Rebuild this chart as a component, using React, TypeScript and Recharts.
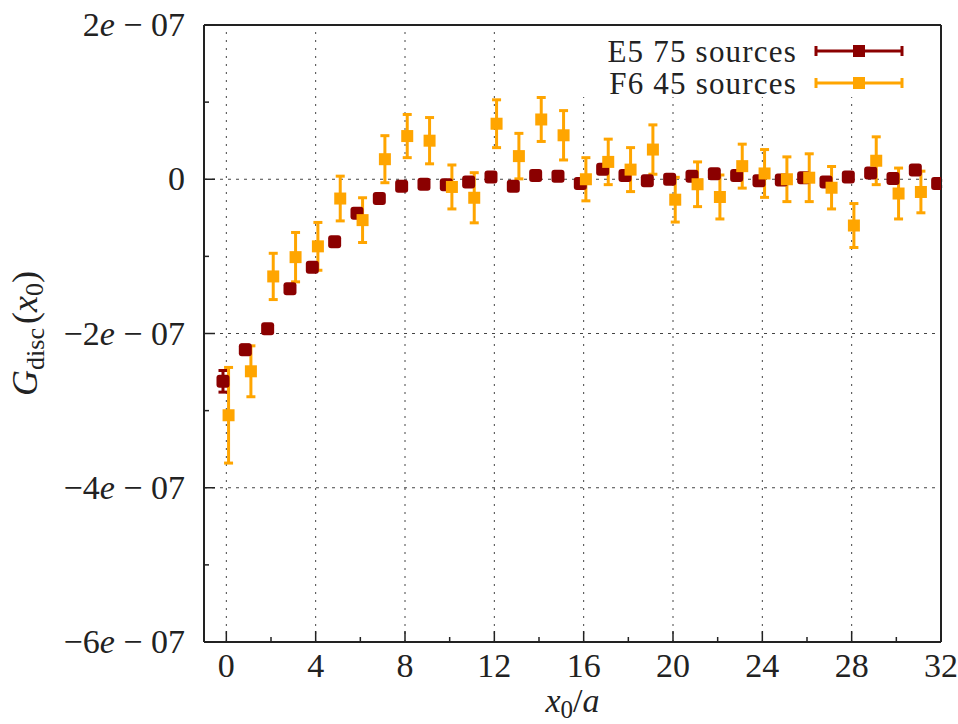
import { ComposedChart, Scatter, ErrorBar, XAxis, YAxis, ReferenceLine, Legend } from 'recharts'

// time slices x0/a
const e5Positions = [0, 1, 2, 3, 4, 5, 6, 7, 8, 9, 10, 11, 12, 13, 14, 15, 16, 17, 18, 19, 20, 21, 22, 23, 24, 25, 26, 27, 28, 29, 30, 31, 32]
const f6Positions = [0, 1, 2, 3, 4, 5, 6, 7, 8, 9, 10, 11, 12, 13, 14, 15, 16, 17, 18, 19, 20, 21, 22, 23, 24, 25, 26, 27, 28, 29, 30, 31]

// values in units of 1e-8
const e5Values = [-26.2, -22.1, -19.4, -14.2, -11.4, -8.1, -4.4, -2.5, -0.9, -0.65, -0.7, -0.35, 0.3, -0.9, 0.5, 0.4, -0.55, 1.3, 0.5, -0.2, 0.0, 0.4, 0.7, 0.5, -0.2, -0.1, 0.2, -0.35, 0.3, 0.8, 0.1, 1.2, -0.55]
const e5Errors = [1.4, 0.6, 0.5, 0.5, 0.5, 0.5, 0.4, 0.4, 0.4, 0.4, 0.4, 0.4, 0.4, 0.4, 0.4, 0.4, 0.4, 0.4, 0.4, 0.4, 0.4, 0.4, 0.4, 0.4, 0.4, 0.4, 0.4, 0.4, 0.4, 0.4, 0.4, 0.4, 0.4]
const f6Values = [-30.6, -24.9, -12.6, -10.1, -8.7, -2.5, -5.3, 2.6, 5.6, 5.0, -1.0, -2.4, 7.2, 3.0, 7.75, 5.7, 0.0, 2.25, 1.25, 3.85, -2.65, -0.65, -2.3, 1.7, 0.75, 0.0, 0.2, -1.1, -6.0, 2.4, -1.85, -1.65]
const f6Errors = [6.2, 3.3, 3.0, 3.2, 3.1, 2.9, 2.9, 3.05, 2.8, 3.0, 2.85, 3.25, 3.1, 2.95, 2.85, 3.2, 2.8, 2.95, 2.85, 3.2, 2.9, 2.9, 2.85, 2.85, 3.1, 2.9, 3.1, 2.75, 2.85, 3.1, 3.3, 2.7]

const xTicks = [0, 2, 4, 6, 8, 10, 12, 14, 16, 18, 20, 22, 24, 26, 28, 30, 32]
const xGrid = [0, 4, 8, 12, 16, 20, 24, 28]
const yTicks = [2e-7, 1e-7, 0, -1e-7, -2e-7, -3e-7, -4e-7, -5e-7, -6e-7]
const yGrid = [0, -2e-7, -4e-7]

const seriesNames = ['E5 75 sources', 'F6 45 sources']
const seriesColors = ['#8b0000', '#ffa500']

const UNIT = 1e-8
const FONT = '"Liberation Serif", "DejaVu Serif", serif'
const INK = '#222'

const e5Data = e5Positions.map((x, i) => ({ x: x - 0.15, y: e5Values[i] * UNIT, err: e5Errors[i] * UNIT }))
const f6Data = f6Positions.map((x, i) => ({ x: x + 0.1, y: f6Values[i] * UNIT, err: f6Errors[i] * UNIT }))

function XTick({ x, y, payload }: any) {
  const v = payload.value as number
  const major = v % 4 === 0
  return (
    <g>
      <line x1={x} x2={x} y1={y} y2={y - (major ? 11 : 5)} stroke={INK} strokeWidth={1.5} />
      {major && (
        <text x={x} y={y + 35} textAnchor="middle" fontSize={34} fontFamily={FONT} fill={INK}>
          {v}
        </text>
      )}
    </g>
  )
}

function YTick({ x, y, payload }: any) {
  const v = payload.value as number
  const n = Math.round(v / 1e-7)
  const major = n % 2 === 0
  return (
    <g>
      <line x1={x} x2={x + (major ? 11 : 5)} y1={y} y2={y} stroke={INK} strokeWidth={1.5} />
      {major && (
        <text x={x - 19} y={y + 11} textAnchor="end" fontSize={34} fontFamily={FONT} fill={INK}>
          {n === 0 ? (
            '0'
          ) : (
            <>
              <tspan>{n < 0 ? '\u2212' : ''}{Math.abs(n)}</tspan>
              <tspan fontStyle="italic">e</tspan>
              <tspan>{' \u2212 07'}</tspan>
            </>
          )}
        </text>
      )}
    </g>
  )
}

function YTitle({ viewBox }: any) {
  const cx = viewBox.x + 37
  const cy = viewBox.y + viewBox.height / 2
  return (
    <text x={cx} y={cy} transform={`rotate(-90, ${cx}, ${cy})`} textAnchor="middle" fontFamily={FONT} fontSize={36} fill={INK}>
      <tspan fontStyle="italic">G</tspan>
      <tspan fontSize={26} dy={7}>disc</tspan>
      <tspan dy={-7} dx={4}>(</tspan>
      <tspan fontStyle="italic">x</tspan>
      <tspan fontSize={26} dy={6}>0</tspan>
      <tspan dy={-6}>)</tspan>
    </text>
  )
}

function XTitle({ viewBox }: any) {
  const cx = viewBox.x + viewBox.width / 2
  const cy = viewBox.y + 70
  return (
    <text x={cx} y={cy} textAnchor="middle" fontFamily={FONT} fontSize={34} fill={INK}>
      <tspan fontStyle="italic">x</tspan>
      <tspan fontSize={25} dy={6}>0</tspan>
      <tspan dy={-6}>/</tspan>
      <tspan fontStyle="italic">a</tspan>
    </text>
  )
}

function LegendBox() {
  return (
    <svg width={364} height={74} style={{ display: 'block', overflow: 'visible' }}>
      <rect x={0} y={0} width={364} height={70} fill="#fff" />
      {seriesNames.map((name, i) => {
        const cy = 24 + i * 32
        const c = seriesColors[i]
        return (
          <g key={name}>
            <text x={222} y={cy + 11} textAnchor="end" fontSize={31} letterSpacing={1.2} fontFamily={FONT} fill={INK}>
              {name}
            </text>
            <line x1={241} x2={327} y1={cy} y2={cy} stroke={c} strokeWidth={3} />
            <line x1={241} x2={241} y1={cy - 5} y2={cy + 5} stroke={c} strokeWidth={3} />
            <line x1={327} x2={327} y1={cy - 5} y2={cy + 5} stroke={c} strokeWidth={3} />
            <rect x={278} y={cy - 6} width={12} height={12} fill={c} />
          </g>
        )
      })}
    </svg>
  )
}

const squareShape = (size: number, color: string, r: number) => (props: any) => (
  <rect x={props.cx - size / 2} y={props.cy - size / 2} width={size} height={size} rx={r} fill={color} />
)

const frameLine = { stroke: INK, strokeWidth: 2 }

export default function App() {
  return (
    <div style={{ position: 'absolute', left: 0, top: 0, width: 958, height: 724, background: '#fff' }}>
      <ComposedChart width={958} height={724} margin={{ top: 24, right: 16, bottom: 0, left: 0 }}>
        <XAxis
          type="number"
          dataKey="x"
          domain={[-1, 32]}
          allowDataOverflow
          ticks={xTicks}
          interval={0}
          tickSize={0}
          tickMargin={0}
          tickLine={false}
          axisLine={frameLine}
          height={82}
          tick={<XTick />}
          label={{ content: <XTitle /> }}
        />
        <XAxis
          xAxisId="top"
          orientation="top"
          type="number"
          dataKey="x"
          domain={[-1, 32]}
          allowDataOverflow
          height={1}
          tick={false}
          tickLine={false}
          axisLine={frameLine}
        />
        <YAxis
          type="number"
          dataKey="y"
          domain={[-6e-7, 2e-7]}
          allowDataOverflow
          ticks={yTicks}
          interval={0}
          tickSize={0}
          tickMargin={0}
          tickLine={false}
          axisLine={frameLine}
          width={204}
          tick={<YTick />}
          label={{ content: <YTitle /> }}
        />
        <YAxis
          yAxisId="right"
          orientation="right"
          type="number"
          dataKey="y"
          domain={[-6e-7, 2e-7]}
          allowDataOverflow
          width={1}
          tick={false}
          tickLine={false}
          axisLine={frameLine}
        />
        {xGrid.map(v => (
          <ReferenceLine key={'gx' + v} x={v} stroke="#444" strokeWidth={1} strokeDasharray="2 6" />
        ))}
        {yGrid.map(v => (
          <ReferenceLine key={'gy' + v} y={v} stroke="#444" strokeWidth={1} strokeDasharray="3 5" />
        ))}
        <Legend
          layout="horizontal"
          verticalAlign="middle"
          align="center"
          content={<LegendBox />}
          wrapperStyle={{ position: 'absolute', left: 575, top: 27, width: 364, height: 74 }}
        />
        <Scatter name={seriesNames[0]} data={e5Data} isAnimationActive={false} shape={squareShape(13, seriesColors[0], 3)}>
          <ErrorBar dataKey="err" direction="y" width={4.5} strokeWidth={3} stroke={seriesColors[0]} isAnimationActive={false} />
        </Scatter>
        <Scatter name={seriesNames[1]} data={f6Data} isAnimationActive={false} shape={squareShape(12, seriesColors[1], 0)}>
          <ErrorBar dataKey="err" direction="y" width={4.5} strokeWidth={3} stroke={seriesColors[1]} isAnimationActive={false} />
        </Scatter>
      </ComposedChart>
    </div>
  )
}
